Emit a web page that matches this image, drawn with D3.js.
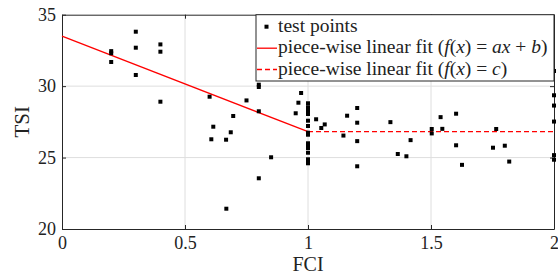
<!DOCTYPE html>
<html>
<head>
<meta charset="utf-8">
<script src="https://cdn.jsdelivr.net/npm/d3@7"></script>
<style>
  html, body { margin: 0; padding: 0; background: #fff; }
  svg { display: block; }
  text { font-family: "Liberation Serif", "Times New Roman", serif; fill: #222; }
</style>
</head>
<body>
<svg id="chart" width="558" height="277"></svg>
<script>
// ---- data ----
const pointsFCI = [
  0.2, 0.2, 0.2,
  0.3, 0.3, 0.3,
  0.4, 0.4, 0.4,
  0.60, 0.607, 0.615, 0.667, 0.668, 0.686, 0.696, 0.75,
  0.80, 0.80, 0.80, 0.80, 0.85, 0.95, 0.961, 0.972,
  1.0, 1.0, 1.0, 1.0, 1.0, 1.0, 1.0, 1.0, 1.0, 1.0, 1.0, 1.0, 1.0, 1.0, 1.0,
  1.033, 1.054, 1.068, 1.144, 1.159,
  1.2, 1.2, 1.2, 1.2,
  1.335, 1.365, 1.40, 1.417,
  1.503, 1.503, 1.539, 1.546, 1.602, 1.602, 1.626,
  1.752, 1.765, 1.80, 1.818,
  2.0, 2.0, 2.0, 2.0, 2.0, 2.0
];
const pointsTSI = [
  32.45, 32.3, 31.69,
  33.81, 32.69, 30.78,
  32.92, 32.41, 28.91,
  29.26, 26.28, 27.16, 26.25, 21.42, 26.77, 27.91, 29.0,
  30.1, 29.94, 28.24, 23.55, 25.02, 28.1, 28.84, 29.52,
  28.80, 28.52, 28.33, 28.05, 27.58, 27.21, 26.74, 26.60, 26.0, 25.83, 25.67, 25.34, 24.88, 24.74, 24.60,
  27.68, 27.07, 27.32, 26.54, 27.93,
  28.47, 27.44, 26.15, 24.39,
  27.48, 25.25, 25.09, 26.22,
  27.0, 26.69, 27.83, 27.01, 28.07, 25.86, 24.49,
  25.69, 27.0, 25.83, 24.72,
  31.06, 29.36, 28.64, 27.52, 25.17, 24.85
];
const fitLinearX = [0, 1];
const fitLinearY = [33.5, 26.81];
const fitConstX = [1, 2];
const fitConstY = [26.81, 26.81];
const xTicks = [0, 0.5, 1, 1.5, 2];
const yTicks = [20, 25, 30, 35];
const xLabel = "FCI";
const yLabel = "TSI";
const legendLabels = ["test points", "piece-wise linear fit", "piece-wise linear fit"];

// ---- layout ----
const svg = d3.select("#chart");
const L = 62, R = 554, T = 14.7, B = 229;
const x = d3.scaleLinear().domain([0, 2]).range([L, R]);
const y = d3.scaleLinear().domain([20, 35]).range([B, T]);

// grid
const grid = svg.append("g").attr("stroke", "#dedede").attr("stroke-width", 1);
grid.selectAll("line.gx").data(xTicks.slice(1, -1)).enter().append("line")
  .attr("x1", d => x(d)).attr("x2", d => x(d)).attr("y1", T).attr("y2", B);
grid.selectAll("line.gy").data(yTicks.slice(1, -1)).enter().append("line")
  .attr("x1", L).attr("x2", R).attr("y1", d => y(d)).attr("y2", d => y(d));

// axes
const xAxis = d3.axisBottom(x).tickValues(xTicks).tickSizeInner(-4).tickSizeOuter(0).tickPadding(7)
  .tickFormat(d3.format("~g"));
const yAxis = d3.axisLeft(y).tickValues(yTicks).tickSizeInner(-4).tickSizeOuter(0).tickPadding(6);
const xTop = d3.axisTop(x).tickValues(xTicks).tickSizeInner(-4).tickSizeOuter(0).tickFormat("");
const yRight = d3.axisRight(y).tickValues(yTicks).tickSizeInner(-4).tickSizeOuter(0).tickFormat("");

function styleAxis(g) {
  g.select(".domain").attr("stroke", "#262626").attr("stroke-width", 1);
  g.selectAll(".tick line").attr("stroke", "#262626");
  g.selectAll(".tick text").attr("font-family", "Liberation Serif, serif").attr("font-size", 18).attr("fill", "#222");
}
svg.append("g").attr("transform", `translate(0,${B})`).call(xAxis).call(styleAxis);
svg.append("g").attr("transform", `translate(${L},0)`).call(yAxis).call(styleAxis);
svg.append("g").attr("transform", `translate(0,${T})`).call(xTop).call(styleAxis);
svg.append("g").attr("transform", `translate(${R},0)`).call(yRight).call(styleAxis);

// fit lines
const line = d3.line().x(d => x(d[0])).y(d => y(d[1]));
svg.append("path").datum(d3.zip(fitLinearX, fitLinearY)).attr("d", line)
  .attr("fill", "none").attr("stroke", "#ff0000").attr("stroke-width", 1.3);
svg.append("path").datum(d3.zip(fitConstX, fitConstY)).attr("d", line)
  .attr("fill", "none").attr("stroke", "#ff0000").attr("stroke-width", 1.3)
  .attr("stroke-dasharray", "5,3");

// points
const ms = 4;
svg.append("g").selectAll("rect").data(d3.zip(pointsFCI, pointsTSI)).enter().append("rect")
  .attr("x", d => x(d[0]) - ms / 2).attr("y", d => y(d[1]) - ms / 2)
  .attr("width", ms).attr("height", ms).attr("fill", "#000");

// axis labels
svg.append("text").attr("x", (L + R) / 2).attr("y", 271).attr("text-anchor", "middle")
  .attr("font-size", 20).text(xLabel);
svg.append("text").attr("transform", `translate(29,${(T + B) / 2}) rotate(-90)`).attr("text-anchor", "middle")
  .attr("font-size", 21).text(yLabel);

// legend
const lg = svg.append("g");
const lx0 = 256, ly0 = T, lx1 = R, ly1 = 81;
lg.append("rect").attr("x", lx0).attr("y", ly0).attr("width", lx1 - lx0).attr("height", ly1 - ly0)
  .attr("fill", "#fff").attr("stroke", "#262626").attr("stroke-width", 1);
const rowY = [26.7, 48.2, 69.5];
lg.append("rect").attr("x", 266.5 - ms / 2).attr("y", rowY[0] - ms / 2).attr("width", ms).attr("height", ms).attr("fill", "#000");
lg.append("line").attr("x1", 257).attr("x2", 277).attr("y1", rowY[1]).attr("y2", rowY[1])
  .attr("stroke", "#ff0000").attr("stroke-width", 1.3);
lg.append("line").attr("x1", 257).attr("x2", 277).attr("y1", rowY[2]).attr("y2", rowY[2])
  .attr("stroke", "#ff0000").attr("stroke-width", 1.3).attr("stroke-dasharray", "5,3");
const fs = 19.5;
lg.append("text").attr("x", 278).attr("y", rowY[0] + 5).attr("font-size", fs).text(legendLabels[0]);
function mathLabel(row, label, parts) {
  const t = lg.append("text").attr("x", 278).attr("y", rowY[row] + 5).attr("font-size", fs);
  t.append("tspan").text(label + " (");
  parts.forEach(p => {
    t.append("tspan").attr("font-style", p[1] ? "italic" : "normal").text(p[0]);
  });
  t.append("tspan").text(")");
}
mathLabel(1, legendLabels[1], [["f", 1], ["(", 0], ["x", 1], [") = ", 0], ["ax", 1], [" + ", 0], ["b", 1]]);
mathLabel(2, legendLabels[2], [["f", 1], ["(", 0], ["x", 1], [") = ", 0], ["c", 1]]);
</script>
</body>
</html>
